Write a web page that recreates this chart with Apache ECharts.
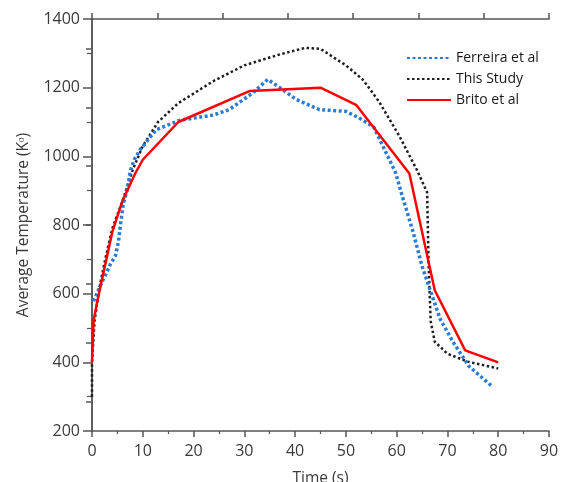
<!DOCTYPE html>
<html>
<head>
<meta charset="utf-8">
<script src="https://cdn.jsdelivr.net/npm/echarts@6/dist/echarts.min.js"></script>
<style>
  html, body { margin: 0; padding: 0; background: #fff; }
  #chart { width: 564px; height: 482px; }
</style>
</head>
<body>
<div id="chart"></div>
<script>
// Time (s) and average temperature (K) for each dataset
const ferreiraTime = [0.3, 1.6, 3.6, 4.6, 5.2, 5.6, 6.2, 7, 7.5, 8.3, 9.5, 12.7, 17.3, 23.8, 27, 31.7, 34.6, 37, 40.2, 44.8, 50, 52.6, 55.5, 59.8, 61.1, 63.1, 65, 67, 68.6, 71.2, 74.2, 78.8];
const ferreiraTemp = [578, 622, 685, 710, 750, 800, 865, 905, 955, 990, 1020, 1078, 1105, 1120, 1136, 1185, 1224, 1200, 1166, 1136, 1131, 1112, 1085, 952, 884, 787, 680, 593, 525, 457, 389, 330];

const studyTime = [0, 0, 0.5, 1.5, 2.6, 4, 6, 8, 10, 13, 17, 24, 30, 37, 42, 45, 50, 53.3, 56.5, 60.5, 64, 66, 66.3, 66.7, 67.5, 70, 74, 80];
const studyTemp = [300, 400, 520, 620, 700, 790, 870, 960, 1030, 1100, 1155, 1220, 1265, 1297, 1316, 1313, 1265, 1224, 1160, 1060, 960, 895, 680, 520, 460, 425, 402, 382];

const britoTime = [0, 0.3, 1, 4, 6, 8.5, 10, 17, 31, 45, 52, 62.5, 67.5, 73.5, 80];
const britoTemp = [400, 520, 575, 780, 870, 950, 990, 1100, 1190, 1200, 1150, 950, 610, 435, 400];

const seriesNames = ['Ferreira et al', 'This Study', 'Brito et al'];
const xTicks = [0, 10, 20, 30, 40, 50, 60, 70, 80, 90];
const yTicks = [200, 400, 600, 800, 1000, 1200, 1400];

const pairs = (xs, ys) => xs.map((x, i) => [x, ys[i]]);

const axisColor = '#555';
const labelFont = { color: '#3a3a3a', fontSize: 16, fontFamily: 'Open Sans' };

const chart = echarts.init(document.getElementById('chart'), null, { renderer: 'canvas' });

chart.setOption({
  animation: false,
  backgroundColor: '#fff',
  grid: { left: 92, right: 15, top: 19, bottom: 51, containLabel: false, outerBoundsMode: 'none' },
  legend: {
    orient: 'vertical',
    left: 401,
    top: 46,
    itemWidth: 44,
    itemHeight: 10,
    itemGap: 7,
    data: seriesNames,
    itemStyle: { opacity: 0 },
    textStyle: { color: '#1a1a1a', fontSize: 14, fontFamily: 'Open Sans' }
  },
  xAxis: [
    {
      type: 'value',
      min: xTicks[0],
      max: xTicks[xTicks.length - 1],
      interval: 10,
      name: 'Time (s)',
      nameLocation: 'middle',
      nameGap: 40,
      nameTextStyle: { color: '#3a3a3a', fontSize: 15.5, fontFamily: 'Open Sans' },
      axisLine: { show: true, onZero: false, lineStyle: { color: axisColor, width: 1.5 } },
      axisTick: { show: true, length: 6, lineStyle: { color: axisColor, width: 1.5 } },
      minorTick: { show: true, splitNumber: 2, length: 3, lineStyle: { color: axisColor, width: 1.2 } },
      axisLabel: Object.assign({ margin: 12, formatter: v => String(v) }, labelFont),
      splitLine: { show: false }
    },
    {
      // top frame edge
      type: 'value',
      position: 'top',
      min: 0,
      max: 7,
      interval: 1,
      axisLine: { show: true, lineStyle: { color: axisColor, width: 1.5 } },
      axisTick: { show: true, length: 6, lineStyle: { color: axisColor, width: 1.5 } },
      axisLabel: { show: false },
      splitLine: { show: false }
    }
  ],
  yAxis: [
    {
      type: 'value',
      min: yTicks[0],
      max: yTicks[yTicks.length - 1],
      interval: 200,
      name: 'Average Temperature (K\u1D52)',
      nameLocation: 'middle',
      nameGap: 60,
      nameTextStyle: { color: '#3a3a3a', fontSize: 15.5, fontFamily: 'Open Sans' },
      axisLine: { show: true, onZero: false, lineStyle: { color: axisColor, width: 1.5 } },
      axisTick: { show: true, length: 9, lineStyle: { color: axisColor, width: 1.5 } },
      minorTick: { show: true, splitNumber: 2, length: 5, lineStyle: { color: axisColor, width: 1.2 } },
      axisLabel: Object.assign({ margin: 12, formatter: v => String(v) }, labelFont),
      splitLine: { show: false }
    },
    {
      // right frame edge
      type: 'category',
      position: 'right',
      data: ['', '', '', '', '', '', ''],
      boundaryGap: true,
      axisLine: { show: true, lineStyle: { color: axisColor, width: 1.5 } },
      axisTick: { show: true, inside: true, alignWithLabel: true, length: 6, lineStyle: { color: axisColor, width: 1.5 } },
      axisLabel: { show: false },
      splitLine: { show: false }
    }
  ],
  series: [
    {
      name: seriesNames[0],
      type: 'line',
      data: pairs(ferreiraTime, ferreiraTemp),
      symbol: 'none',
      color: '#2b7bd3',
      lineStyle: { color: '#2b7bd3', width: 3.5, type: [3, 2.5] },
      z: 3
    },
    {
      name: seriesNames[1],
      type: 'line',
      data: pairs(studyTime, studyTemp),
      symbol: 'none',
      color: '#1e1e1e',
      lineStyle: { color: '#1e1e1e', width: 2.5, type: [2.5, 2.5] },
      z: 2
    },
    {
      name: seriesNames[2],
      type: 'line',
      data: pairs(britoTime, britoTemp),
      symbol: 'none',
      color: '#ff0000',
      lineStyle: { color: '#ff0000', width: 2.5 },
      z: 4
    }
  ]
});
</script>
</body>
</html>
